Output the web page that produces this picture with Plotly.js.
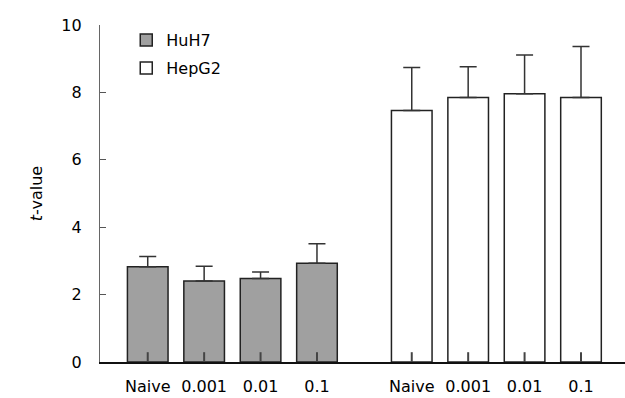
<!DOCTYPE html>
<html>
<head>
<meta charset="utf-8">
<script src="https://cdn.plot.ly/plotly-3.0.1.min.js"></script>
<style>html,body{margin:0;padding:0;background:#fff;}#chart{width:625px;height:398px;}</style>
</head>
<body>
<div id="chart"></div>
<script>
// Data
const concentrations = ["Naive", "0.001", "0.01", "0.1"];
const huh7Values = [2.83, 2.40, 2.48, 2.93];
const huh7Errors = [0.30, 0.44, 0.19, 0.58];
const hepg2Values = [7.46, 7.85, 7.96, 7.85];
const hepg2Errors = [1.28, 0.91, 1.15, 1.51];
const seriesNames = ["HuH7", "HepG2"];
const yTicks = [0, 2, 4, 6, 8, 10];

// Layout positions (computed, not data)
const groupOffset = 4.68;
const xHuh7 = concentrations.map((_, i) => i);
const xHepg2 = concentrations.map((_, i) => i + groupOffset);
const tickVals = xHuh7.concat(xHepg2);
const tickText = concentrations.concat(concentrations);

const font = {family: "DejaVu Sans, Verdana, sans-serif", size: 16, color: "#000"};

const traces = [
  {
    type: "bar", name: seriesNames[0], x: xHuh7, y: huh7Values, width: 0.72,
    marker: {color: "#a0a0a0", line: {color: "#222", width: 1.5}},
    error_y: {type: "data", array: huh7Errors, arrayminus: huh7Errors.map(() => 0), symmetric: false,
              color: "#333", thickness: 1.5, width: 8.5},
    legend: "legend"
  },
  {
    type: "bar", name: seriesNames[1], x: xHepg2, y: hepg2Values, width: 0.72,
    marker: {color: "#ffffff", line: {color: "#222", width: 1.5}},
    error_y: {type: "data", array: hepg2Errors, arrayminus: hepg2Errors.map(() => 0), symmetric: false,
              color: "#333", thickness: 1.5, width: 8.5},
    legend: "legend2"
  },
  {
    // inner tick marks of the category axis, drawn over the bars
    type: "scatter", mode: "markers", x: tickVals, y: tickVals.map(() => 0),
    marker: {symbol: "line-ns", size: 14, line: {color: "#444", width: 2}},
    cliponaxis: true, showlegend: false, hoverinfo: "skip"
  }
];

const layout = {
  width: 625, height: 398,
  margin: {l: 100, r: 0, t: 25, b: 36},
  paper_bgcolor: "#fff", plot_bgcolor: "#fff",
  font: font,
  barmode: "overlay",
  showlegend: true,
  legend: {x: 0.05, y: 0.955, xanchor: "left", yanchor: "middle", bgcolor: "rgba(0,0,0,0)", font: font, borderwidth: 0},
  legend2: {x: 0.05, y: 0.872, xanchor: "left", yanchor: "middle", bgcolor: "rgba(0,0,0,0)", font: font, borderwidth: 0},
  xaxis: {
    range: [-0.846, 8.46], tickmode: "array", tickvals: tickVals, ticktext: tickText,
    showgrid: false, zeroline: false, showline: true, linecolor: "#111", linewidth: 1.5,
    ticks: "", layer: "above traces",
    ticklabelstandoff: 9, tickfont: font, fixedrange: true
  },
  yaxis: {
    range: [0, 10], tickvals: yTicks,
    showgrid: false, zeroline: false, showline: true, linecolor: "#666", linewidth: 1.2,
    ticks: "inside", ticklen: 6, tickwidth: 1.2, tickcolor: "#555", layer: "above traces",
    ticklabelstandoff: 14, tickfont: font,
    title: {text: "<i>t</i>-value", font: font, standoff: 14}, fixedrange: true
  }
};

Plotly.newPlot("chart", traces, layout, {displayModeBar: false, staticPlot: true});
</script>
</body>
</html>
